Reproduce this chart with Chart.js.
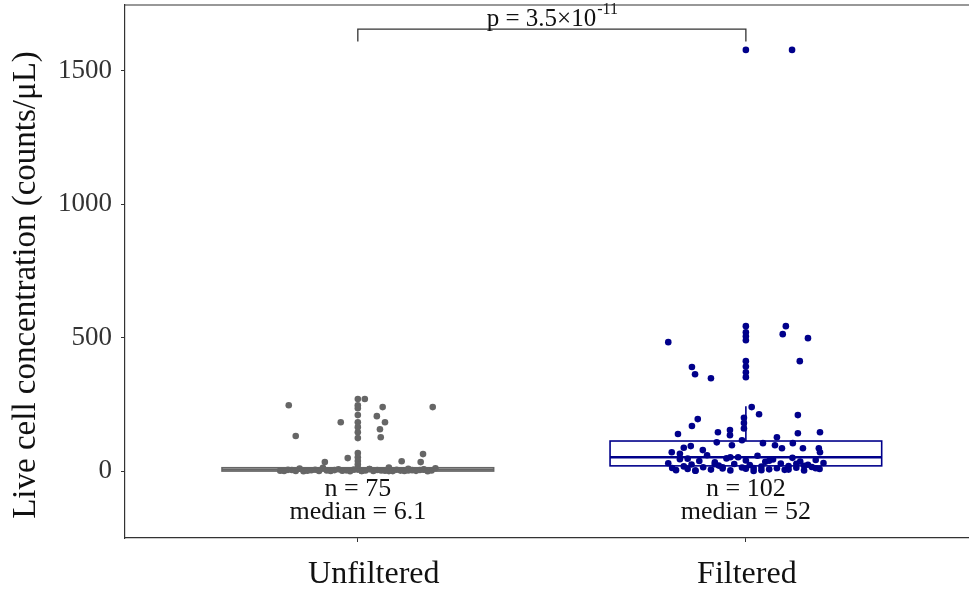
<!DOCTYPE html>
<html>
<head>
<meta charset="utf-8">
<script src="https://cdn.jsdelivr.net/npm/chart.js@4.4.0/dist/chart.umd.min.js"></script>
<style>
  html, body { margin: 0; padding: 0; background: #fff; overflow: hidden; }
  canvas { display: block; }
</style>
</head>
<body>
<canvas id="chart" width="969" height="590"></canvas>
<script>
// groups on the x axis (positions 1 and 2)
const groups = ['Unfiltered', 'Filtered'];
const yTicks = [0, 500, 1000, 1500];
const yTitle = 'Live cell concentration (counts/\u03bcL)';

// jittered samples: x is the group position plus jitter, y is counts/uL
const unfilteredX = [
  0.822, 0.840, 0.956, 1.0, 1.0, 1.0, 1.0, 1.0, 1.0, 1.0, 1.0, 1.018, 1.064, 1.049, 1.070, 1.057, 1.059, 1.193,
  1.0, 1.0, 1.0, 1.0, 0.974, 0.915, 1.113, 1.168, 1.162,
  0.80, 0.81, 0.83, 0.84, 0.85, 0.86, 0.88, 0.89, 0.90, 0.91,
  0.92, 0.93, 0.94, 0.95, 0.96, 0.97, 0.98, 0.99, 1.00, 1.00,
  1.01, 1.02, 1.03, 1.04, 1.05, 1.06, 1.07, 1.08, 1.09, 1.10,
  1.11, 1.12, 1.13, 1.14, 1.15, 1.16, 1.17, 1.18, 1.19, 1.20,
  0.82, 0.87, 0.96, 1.03, 1.08, 1.13, 1.17, 1.01
];
const unfilteredY = [
  247, 132, 183, 270, 247, 236, 210, 183, 165, 146, 124, 270, 240, 206, 183, 157, 127, 240,
  68, 52, 38, 25, 49, 34, 37, 64, 34,
  2.1, 0.8, 4.5, 1.2, 9.8, 0.3, 3.6, 5.2, 0.9, 12.4,
  2.8, 0.5, 4.1, 7.3, 1.5, 3.3, 0.2, 5.8, 10.6, 6.1,
  1.1, 2.4, 8.2, 0.6, 4.8, 3.0, 1.7, 13.5, 0.4, 5.5,
  2.2, 0.7, 9.1, 3.9, 1.3, 4.4, 6.8, 0.1, 2.6, 11.2,
  5.0, 1.9, 3.5, 7.9, 0.4, 2.9, 5.6, 1.0
];

const filteredX = [
  2.0, 2.119, 1.80, 1.861, 1.869, 1.910, 2.0, 2.0, 2.0, 2.0, 2.0, 2.0, 2.0, 2.0, 2.103, 2.095, 2.160, 2.139,
  2.015, 2.034, 1.876, 1.861, 1.825, 2.134, 2.191, 1.995, 1.995, 1.995, 1.928, 1.959, 1.959, 1.925,
  1.858, 1.889, 1.990, 1.964, 2.044, 2.080, 2.075, 2.121, 2.134, 2.093, 2.147, 2.188, 2.191, 1.809, 1.840,
  1.80, 1.81, 1.82, 1.83, 1.84, 1.85, 1.86, 1.87, 1.88, 1.89,
  1.90, 1.91, 1.92, 1.93, 1.94, 1.95, 1.96, 1.97, 1.98, 1.99,
  2.00, 2.00, 2.01, 2.02, 2.03, 2.04, 2.05, 2.06, 2.07, 2.08,
  2.09, 2.10, 2.11, 2.12, 2.13, 2.14, 2.15, 2.16, 2.17, 2.18,
  2.19, 2.20, 1.83, 1.87, 1.92, 1.96, 2.02, 2.06, 2.11, 2.15,
  1.85, 1.94, 2.04, 2.13, 2.18
];
const filteredY = [
  1577, 1577, 483, 390, 363, 348, 543, 520, 505, 490, 412, 392, 370, 352, 543, 513, 498, 412,
  240, 213, 195, 169, 139, 210, 146, 200, 180, 160, 146, 154, 135, 108,
  94, 79, 116, 97, 105, 127, 97, 105, 142, 86, 86, 86, 71, 71, 88,
  30, 12, 4, 45, 18, 8, 25, 2, 38, 15,
  60, 6, 33, 21, 10, 48, 3, 27, 52, 14,
  40, 9, 23, 1, 58, 17, 35, 7, 44, 11,
  29, 5, 19, 50, 13, 36, 3, 24, 16, 42,
  8, 31, 65, 2, 26, 52, 12, 39, 6, 20,
  47, 15, 4, 28, 11
];

// boxplot summaries per group
const boxLow = [0, 0];
const boxQ1 = [0.5, 20];
const boxMedian = [6.1, 52];
const boxQ3 = [13, 113];
const boxHigh = [30, 243];

const pValueText = 'p = 3.5\u00d710';
const pValueExp = '-11';
const bracketTop = 1655;
const bracketFoot = 1608;
const nLabelY = -67;
const medianLabelY = -153;

const colors = ['#666666', '#00008b'];
const serif = "'Liberation Serif', 'Times New Roman', serif";
// horizontal nudge of the group names under the axis, in px
const groupLabelNudge = [16, 1];

function toPoints(xs, ys) {
  return xs.map((v, i) => ({ x: v, y: ys[i] }));
}

const extras = {
  id: 'extras',
  afterDatasetsDraw(chart) {
    const { ctx, chartArea, scales: { x, y } } = chart;
    ctx.save();

    // boxes, medians and whiskers
    for (let i = 0; i < groups.length; i++) {
      const c = i + 1;
      const l = x.getPixelForValue(c - 0.35);
      const r = x.getPixelForValue(c + 0.35);
      const cx = x.getPixelForValue(c);
      const top = y.getPixelForValue(boxQ3[i]);
      const bot = y.getPixelForValue(boxQ1[i]);
      ctx.strokeStyle = colors[i];
      ctx.lineWidth = 1.6;
      ctx.beginPath();
      ctx.moveTo(cx, top); ctx.lineTo(cx, y.getPixelForValue(boxHigh[i]));
      ctx.moveTo(cx, bot); ctx.lineTo(cx, y.getPixelForValue(boxLow[i]));
      ctx.stroke();
      ctx.strokeRect(l, top, r - l, bot - top);
      ctx.lineWidth = 2.4;
      const m = y.getPixelForValue(boxMedian[i]);
      ctx.beginPath();
      ctx.moveTo(l, m); ctx.lineTo(r, m);
      ctx.stroke();
    }

    // n / median labels under each group
    ctx.fillStyle = '#111';
    ctx.font = '26px ' + serif;
    ctx.textAlign = 'center';
    ctx.textBaseline = 'middle';
    const counts = [unfilteredY.length, filteredY.length];
    for (let i = 0; i < groups.length; i++) {
      const cx = x.getPixelForValue(i + 1);
      ctx.fillText('n = ' + counts[i], cx, y.getPixelForValue(nLabelY));
      ctx.fillText('median = ' + boxMedian[i], cx, y.getPixelForValue(medianLabelY));
    }

    // group names below the x axis
    ctx.font = '32px ' + serif;
    ctx.textBaseline = 'middle';
    for (let i = 0; i < groups.length; i++) {
      ctx.fillText(groups[i], x.getPixelForValue(i + 1) + groupLabelNudge[i], chartArea.bottom + 37);
    }

    // significance bracket
    const bx1 = x.getPixelForValue(1);
    const bx2 = x.getPixelForValue(2);
    const by = y.getPixelForValue(bracketTop);
    const bf = y.getPixelForValue(bracketFoot);
    ctx.strokeStyle = '#333';
    ctx.lineWidth = 1.3;
    ctx.beginPath();
    ctx.moveTo(bx1, bf); ctx.lineTo(bx1, by); ctx.lineTo(bx2, by); ctx.lineTo(bx2, bf);
    ctx.stroke();

    ctx.font = '25px ' + serif;
    const w1 = ctx.measureText(pValueText).width;
    ctx.font = '16px ' + serif;
    const w2 = ctx.measureText(pValueExp).width;
    const start = x.getPixelForValue(1.5) - (w1 + w2) / 2;
    ctx.textAlign = 'left';
    ctx.textBaseline = 'alphabetic';
    ctx.fillStyle = '#111';
    ctx.font = '25px ' + serif;
    ctx.fillText(pValueText, start, by - 3);
    ctx.font = '16px ' + serif;
    ctx.fillText(pValueExp, start + w1 + 1, by - 15);

    // top frame line of the panel
    ctx.strokeStyle = '#333';
    ctx.lineWidth = 1.2;
    ctx.beginPath();
    ctx.moveTo(chartArea.left, chartArea.top);
    ctx.lineTo(chartArea.right, chartArea.top);
    ctx.stroke();

    // y axis title
    ctx.save();
    ctx.translate(26, 285);
    ctx.rotate(-Math.PI / 2);
    ctx.font = '33px ' + serif;
    ctx.textAlign = 'center';
    ctx.textBaseline = 'middle';
    ctx.fillStyle = '#111';
    ctx.fillText(yTitle, 0, 0);
    ctx.restore();

    ctx.restore();
  }
};

new Chart(document.getElementById('chart'), {
  type: 'scatter',
  data: {
    datasets: [
      {
        label: groups[0],
        data: toPoints(unfilteredX, unfilteredY),
        backgroundColor: colors[0],
        borderWidth: 0,
        pointRadius: 3.3
      },
      {
        label: groups[1],
        data: toPoints(filteredX, filteredY),
        backgroundColor: colors[1],
        borderWidth: 0,
        pointRadius: 3.3
      }
    ]
  },
  options: {
    responsive: false,
    animation: false,
    devicePixelRatio: 1,
    layout: { autoPadding: false, padding: { top: 5, left: 0, right: 0, bottom: 0 } },
    plugins: {
      legend: { display: false },
      tooltip: { enabled: false }
    },
    scales: {
      x: {
        type: 'linear',
        min: 0.4,
        max: 2.575,
        afterBuildTicks: s => { s.ticks = [{ value: 1 }, { value: 2 }]; },
        afterFit: s => { s.height = 52; s.paddingLeft = 0; s.paddingRight = 0; },
        grid: { drawOnChartArea: false, tickLength: 4, color: '#333' },
        border: { color: '#333', width: 1.2 },
        ticks: { display: false }
      },
      y: {
        min: -250,
        max: 1745,
        afterBuildTicks: s => { s.ticks = yTicks.map(v => ({ value: v })); },
        afterFit: s => { s.width = 125; s.paddingTop = 0; s.paddingBottom = 0; },
        grid: { drawOnChartArea: false, tickLength: 4, color: '#333' },
        border: { color: '#333', width: 1.2 },
        ticks: {
          callback: v => String(v),
          font: { family: serif, size: 27 },
          color: '#333',
          padding: 9
        }
      }
    }
  },
  plugins: [extras]
});
</script>
</body>
</html>
